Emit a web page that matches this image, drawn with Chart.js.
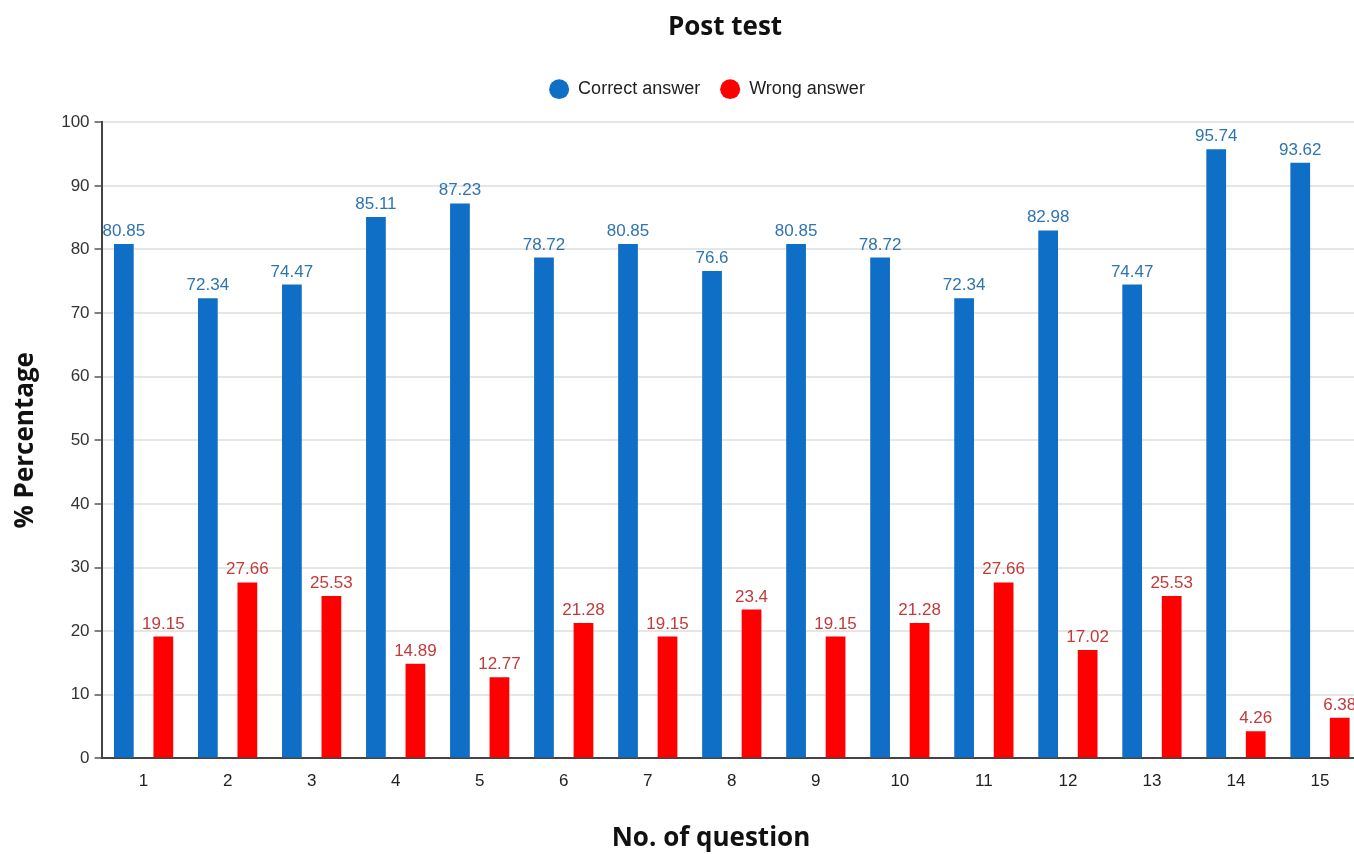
<!DOCTYPE html>
<html>
<head>
<meta charset="utf-8">
<title>Post test</title>
<script src="https://cdn.jsdelivr.net/npm/chart.js@4/dist/chart.umd.min.js"></script>
<style>
  html, body { margin: 0; padding: 0; background: #ffffff; overflow: hidden; }
  #wrap { width: 1370px; height: 854px; }
</style>
</head>
<body>
<div id="wrap"><canvas id="chart" width="1370" height="854"></canvas></div>
<script>
// Question numbers on the x axis
const questions = ['1', '2', '3', '4', '5', '6', '7', '8', '9', '10', '11', '12', '13', '14', '15'];

// Share of students per question (%)
const correctAnswer = [80.85, 72.34, 74.47, 85.11, 87.23, 78.72, 80.85, 76.6, 80.85, 78.72, 72.34, 82.98, 74.47, 95.74, 93.62];
const wrongAnswer   = [19.15, 27.66, 25.53, 14.89, 12.77, 21.28, 19.15, 23.4, 19.15, 21.28, 27.66, 17.02, 25.53, 4.26, 6.38];

const seriesNames = ['Correct answer', 'Wrong answer'];
const xCaption = 'No. of question';
const yMin = 0;
const yMax = 100;
const yStep = 10;

const barColors = ['#0F6FC6', '#FF0000'];
const valueColors = ['#2F74B0', '#C23A3A'];

const bodyFont = '"Liberation Sans", Arial, sans-serif';
const headFont = '"Open Sans", "Noto Sans", sans-serif';

Chart.defaults.font.family = bodyFont;

// Writes each bar's value just above it
const valueLabels = {
  id: 'valueLabels',
  afterDatasetsDraw(chart) {
    const ctx = chart.ctx;
    ctx.save();
    ctx.font = '17px ' + bodyFont;
    ctx.textAlign = 'center';
    ctx.textBaseline = 'alphabetic';
    chart.data.datasets.forEach((ds, i) => {
      const meta = chart.getDatasetMeta(i);
      ctx.fillStyle = valueColors[i];
      meta.data.forEach((bar, j) => {
        ctx.fillText(String(ds.data[j]), bar.x, bar.y - 8);
      });
    });
    ctx.restore();
  }
};

// Extra room under the legend, and centring of the heading blocks
const headerSpacing = {
  id: 'headerSpacing',
  beforeInit(chart) {
    const legend = chart.legend;
    const fit = legend.fit;
    legend.fit = function () {
      fit.call(this);
      this.height += 14;
    };
  },
  afterLayout(chart) {
    const TitleBlock = chart.titleBlock.constructor;
    chart.titleBlock.left = 0;
    chart.titleBlock.right = 1450;
    chart.legend.left = 0;
    chart.legend.right = 1414;
    chart.boxes.forEach((box) => {
      if (box instanceof TitleBlock && box !== chart.titleBlock && box.options.position === 'bottom') {
        box.left = 0;
        box.right = 1422;
      }
    });
  }
};

new Chart(document.getElementById('chart'), {
  type: 'bar',
  data: {
    labels: questions,
    datasets: [
      {
        label: seriesNames[0],
        data: correctAnswer,
        backgroundColor: barColors[0],
        categoryPercentage: 0.94,
        barPercentage: 0.5
      },
      {
        label: seriesNames[1],
        data: wrongAnswer,
        backgroundColor: barColors[1],
        categoryPercentage: 0.94,
        barPercentage: 0.5
      }
    ]
  },
  options: {
    responsive: false,
    animation: false,
    layout: { padding: { left: 0, right: 8, top: 0, bottom: 0 } },
    plugins: {
      title: {
        display: true,
        text: 'Post test',
        color: '#111111',
        font: { family: headFont, size: 26, weight: 'bold' },
        padding: { top: 12, bottom: 17 }
      },
      // x-axis caption, set under the tick labels
      subtitle: {
        display: true,
        position: 'bottom',
        text: xCaption,
        color: '#111111',
        font: { family: headFont, size: 26, weight: 'bold' },
        padding: { top: 18, bottom: 0 }
      },
      legend: {
        display: true,
        position: 'top',
        labels: {
          usePointStyle: true,
          pointStyle: 'circle',
          boxHeight: 14,
          pointStyleWidth: 20,
          padding: 20,
          color: '#222222',
          font: { family: bodyFont, size: 18 }
        }
      },
      tooltip: { enabled: false }
    },
    scales: {
      x: {
        grid: { display: false, drawTicks: false },
        border: { display: true, color: '#444444', width: 2 },
        ticks: { color: '#222222', font: { size: 17 }, padding: 13 }
      },
      y: {
        min: yMin,
        max: yMax,
        grid: { color: '#e6e6e6', lineWidth: 2, tickColor: '#555555', tickLength: 7, tickWidth: 1.5 },
        border: { display: true, color: '#444444', width: 2 },
        ticks: { stepSize: yStep, color: '#333333', font: { size: 17 }, padding: 5 },
        title: {
          display: true,
          text: '% Percentage',
          color: '#111111',
          font: { family: headFont, size: 26, weight: 'bold' },
          padding: { top: 10, bottom: 15 }
        }
      }
    }
  },
  plugins: [valueLabels, headerSpacing]
});
</script>
</body>
</html>
